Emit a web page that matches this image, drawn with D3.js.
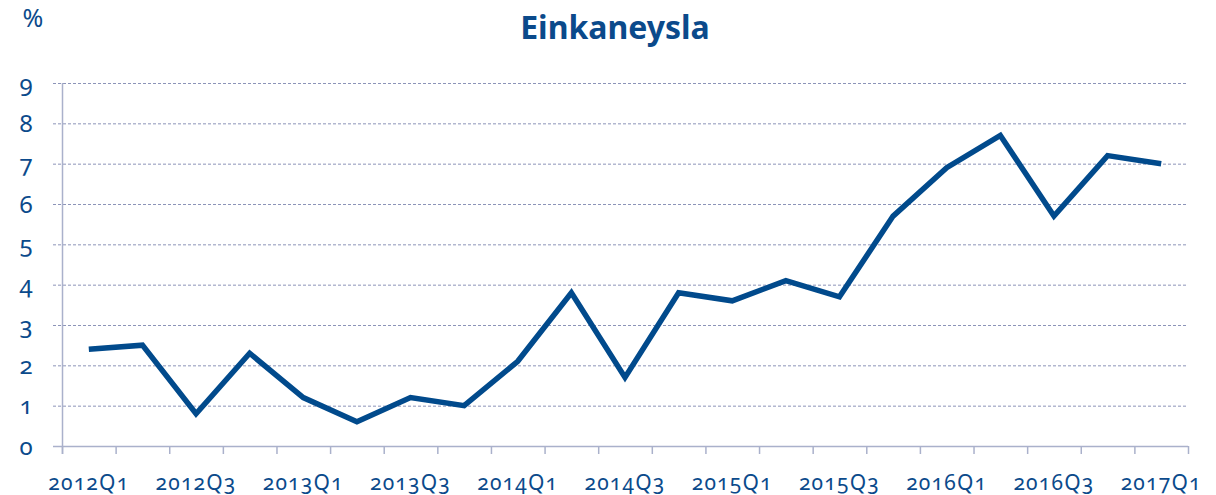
<!DOCTYPE html>
<html><head><meta charset="utf-8">
<script src="https://cdn.jsdelivr.net/npm/d3@7"></script>
<style>
body{margin:0;background:#fff;}
text{font-family:"Noto Sans",sans-serif;fill:#0b4a8b;font-variant-numeric:oldstyle-nums;}
</style></head><body>
<svg id="c" width="1216" height="495"></svg>
<script>
const categories=["2012Q1","2012Q2","2012Q3","2012Q4","2013Q1","2013Q2","2013Q3","2013Q4","2014Q1","2014Q2","2014Q3","2014Q4","2015Q1","2015Q2","2015Q3","2015Q4","2016Q1","2016Q2","2016Q3","2016Q4","2017Q1"];
const values=[2.4,2.5,0.8,2.3,1.2,0.6,1.2,1.0,2.1,3.8,1.7,3.8,3.6,4.1,3.7,5.7,6.9,7.7,5.7,7.2,7.0];
const yTicks=[0,1,2,3,4,5,6,7,8,9];
const title="Einkaneysla";
const unit="%";

const svg=d3.select("#c");
const L=62,R=1188,T=83,B=446;
const x=d3.scaleBand().domain(categories).range([L,R]).padding(0);
const y=d3.scaleLinear().domain([0,9]).range([B,T]);

svg.append("g").selectAll("line").data(yTicks.filter(d=>d>0)).join("line")
 .attr("x1",L-9).attr("x2",R).attr("y1",d=>y(d)+0.5).attr("y2",d=>y(d)+0.5)
 .attr("stroke","#8c94b8").attr("stroke-width",1).attr("stroke-dasharray","3,2");

svg.append("line").attr("x1",L+0.5).attr("x2",L+0.5).attr("y1",T).attr("y2",B+8).attr("stroke","#aab1cb").attr("stroke-width",1.5);
svg.append("line").attr("x1",L-9).attr("x2",R).attr("y1",B+0.5).attr("y2",B+0.5).attr("stroke","#aab1cb").attr("stroke-width",1.5);
const bounds=categories.map(c=>x(c)).concat([R]);
svg.append("g").selectAll("line").data(bounds).join("line")
 .attr("x1",d=>d+0.5).attr("x2",d=>d+0.5).attr("y1",B).attr("y2",B+8)
 .attr("stroke","#aab1cb").attr("stroke-width",1.5);

svg.append("g").selectAll("text").data(yTicks).join("text")
 .attr("x",26).attr("y",d=>y(d)).attr("dy","0.36em").attr("text-anchor","middle")
 .attr("font-size",24).text(d=>d);

svg.append("g").selectAll("text").data(categories.filter((d,i)=>i%2===0)).join("text")
 .attr("x",d=>x(d)+x.bandwidth()/2).attr("y",490).attr("text-anchor","middle")
 .attr("font-size",21).attr("letter-spacing","1.2px").text(d=>d);

const line=d3.line().x((d,i)=>x(categories[i])+x.bandwidth()/2).y(d=>y(d));
svg.append("path").datum(values).attr("d",line).attr("fill","none")
 .attr("stroke","#014a8c").attr("stroke-width",5.5).attr("stroke-linejoin","miter");

svg.append("text").attr("x",615).attr("y",39).attr("text-anchor","middle")
 .attr("font-size",32).attr("font-weight","bold").text(title);
svg.append("text").attr("x",33).attr("y",27).attr("text-anchor","middle")
 .attr("font-size",25).text(unit);
</script></body></html>
